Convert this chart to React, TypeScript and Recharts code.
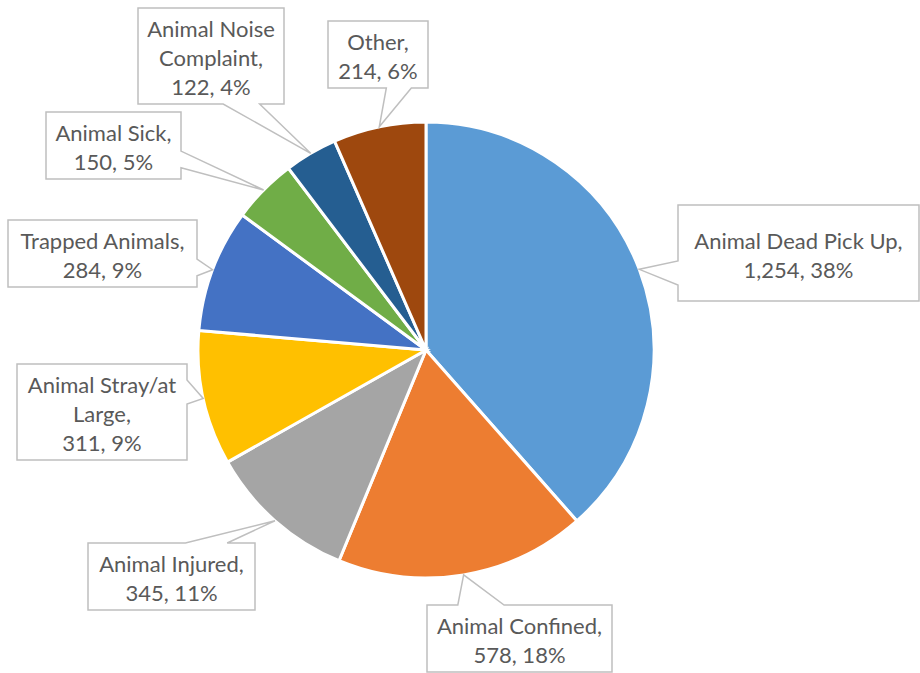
import React from "react";
import { PieChart, Pie, Cell } from "recharts";

const categories = [
  "Animal Dead Pick Up",
  "Animal Confined",
  "Animal Injured",
  "Animal Stray/at Large",
  "Trapped Animals",
  "Animal Sick",
  "Animal Noise Complaint",
  "Other",
];
const values = [1254, 578, 345, 311, 284, 150, 122, 214];
const percentLabels = ["38%", "18%", "11%", "9%", "9%", "5%", "4%", "6%"];
// how each category name wraps inside its callout
const nameLines = [
  ["Animal Dead Pick Up,"],
  ["Animal Confined,"],
  ["Animal Injured,"],
  ["Animal Stray/at", "Large,"],
  ["Trapped Animals,"],
  ["Animal Sick,"],
  ["Animal Noise", "Complaint,"],
  ["Other,"],
];
const colors = ["#5B9BD5", "#ED7D31", "#A5A5A5", "#FFC000", "#4472C4", "#70AD47", "#255E91", "#9E480E"];

// callout box placement relative to the pie centre (dx, dy = top-left), plus size
const calloutBoxes = [
  { dx: 252, dy: -145, w: 241, h: 96 },
  { dx: 1, dy: 255, w: 185, h: 67 },
  { dx: -338, dy: 193, w: 167, h: 67 },
  { dx: -409, dy: 14, w: 170, h: 96 },
  { dx: -418, dy: -130, w: 189, h: 67 },
  { dx: -380, dy: -238, w: 135, h: 67 },
  { dx: -288, dy: -342, w: 146, h: 96 },
  { dx: -98, dy: -329, w: 100, h: 67 },
];

const data = categories.map((name, i) => ({ name, value: values[i] }));

const RAD = Math.PI / 180;

function calloutPath(x: number, y: number, w: number, h: number, tx: number, ty: number) {
  const hc = x + w / 2;
  const vc = y + h / 2;
  const dxPos = tx - hc;
  const dyPos = ty - vc;
  const horiz = Math.abs(dxPos) / w > Math.abs(dyPos) / h;
  const xg1 = dxPos > 0 ? 7 : 2;
  const xg2 = dxPos > 0 ? 10 : 5;
  const yg1 = dyPos > 0 ? 7 : 2;
  const yg2 = dyPos > 0 ? 10 : 5;
  const x1 = x + (w * xg1) / 12;
  const x2 = x + (w * xg2) / 12;
  const y1 = y + (h * yg1) / 12;
  const y2 = y + (h * yg2) / 12;
  const r = x + w;
  const b = y + h;
  let d = `M${x},${y}`;
  if (!horiz && dyPos < 0) d += ` L${x1},${y} L${tx},${ty} L${x2},${y}`;
  d += ` L${r},${y}`;
  if (horiz && dxPos > 0) d += ` L${r},${y1} L${tx},${ty} L${r},${y2}`;
  d += ` L${r},${b}`;
  if (!horiz && dyPos > 0) d += ` L${x2},${b} L${tx},${ty} L${x1},${b}`;
  d += ` L${x},${b}`;
  if (horiz && dxPos < 0) d += ` L${x},${y2} L${tx},${ty} L${x},${y1}`;
  d += " Z";
  return d;
}

const renderLabel = (props: any) => {
  const { cx, cy, midAngle, outerRadius, index, value } = props;
  const tx = cx + outerRadius * Math.cos(-midAngle * RAD);
  const ty = cy + outerRadius * Math.sin(-midAngle * RAD);
  const box = calloutBoxes[index];
  const x = cx + box.dx;
  const y = cy + box.dy;
  const lines = [...nameLines[index], `${Number(value).toLocaleString("en-US")}, ${percentLabels[index]}`];
  const lh = 29;
  const mid = y + box.h / 2 + 1.5;
  return (
    <g key={`lbl-${index}`}>
      <path d={calloutPath(x, y, box.w, box.h, tx, ty)} fill="#FFFFFF" stroke="#BFBFBF" strokeWidth={1.5} />
      {lines.map((ln, i) => (
        <text
          key={i}
          x={x + box.w / 2}
          y={mid + (i - (lines.length - 1) / 2) * lh}
          textAnchor="middle"
          dominantBaseline="central"
          fontFamily="Lato, 'Noto Sans', sans-serif"
          fontSize={22}
          fill="#595959"
        >
          {ln}
        </text>
      ))}
    </g>
  );
};

export default function App() {
  return (
    <div style={{ position: "absolute", left: 0, top: 0, width: 920, height: 673, background: "#FFFFFF" }}>
      <PieChart width={920} height={673} margin={{ top: 0, right: 0, bottom: 0, left: 0 }}>
        <Pie
          data={data}
          dataKey="value"
          nameKey="name"
          cx={426}
          cy={350}
          outerRadius={228}
          startAngle={90}
          endAngle={-270}
          stroke="#FFFFFF"
          strokeWidth={3}
          label={renderLabel}
          labelLine={false}
          isAnimationActive={false}
        >
          {data.map((d, i) => (
            <Cell key={d.name} fill={colors[i]} />
          ))}
        </Pie>
      </PieChart>
    </div>
  );
}
